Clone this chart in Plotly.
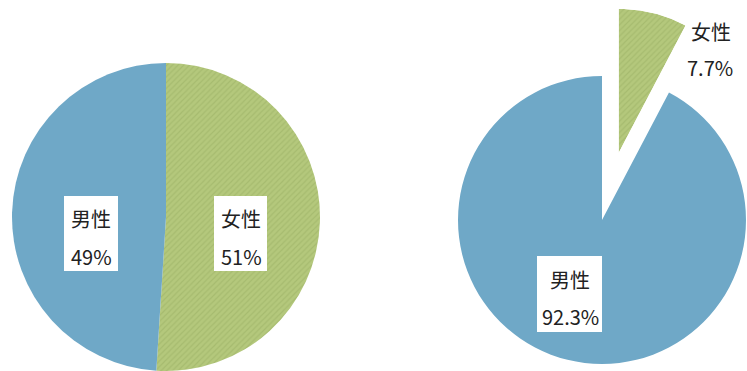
import math
import plotly.graph_objects as go

# ---- data ----
left_labels = ["女性", "男性"]
left_values = [51, 49]
left_text = ["51%", "49%"]

right_labels = ["女性", "男性"]
right_values = [7.7, 92.3]
right_text = ["7.7%", "92.3%"]

# ---- style ----
W, H = 747, 371
BLUE = "#6FA8C7"
GREEN = "#B4C87C"
HATCH = "#98AD62"
TXT = "#222222"
FONT = "Noto Sans CJK SC"


def dom(cx, cy, r):
    x0, x1 = (cx - r) / W, (cx + r) / W
    y0, y1 = 1 - (cy + r) / H, 1 - (cy - r) / H
    c = lambda v: min(1.0, max(0.0, v))
    return dict(x=[c(x0), c(x1)], y=[c(y0), c(y1)])


def P(x, y):
    return x / W, 1 - y / H


fig = go.Figure()

# left pie
L_CX, L_CY, L_R = 166, 217, 154
fig.add_trace(go.Pie(
    labels=left_labels, values=left_values, sort=False, direction="clockwise",
    rotation=0, textinfo="none", hoverinfo="skip", showlegend=False,
    domain=dom(L_CX, L_CY, L_R),
    marker=dict(colors=[GREEN, BLUE], line=dict(width=0),
                pattern=dict(shape=["/", ""], fgcolor=HATCH, size=4,
                             solidity=0.3, fillmode="overlay")),
))

# right pie (male part only; female slice drawn pulled out below)
R_CX, R_CY, R_R = 602, 220, 144
fig.add_trace(go.Pie(
    labels=right_labels, values=right_values, sort=False, direction="clockwise",
    rotation=0, textinfo="none", hoverinfo="skip", showlegend=False,
    domain=dom(R_CX, R_CY, R_R),
    marker=dict(colors=["rgba(0,0,0,0)", BLUE], line=dict(width=0)),
))

# pulled-out female slice
total = sum(right_values)
span = right_values[0] / total * 360.0
mid = span / 2.0
pull = 0.48
ox = R_CX + pull * R_R * math.sin(math.radians(mid))
oy = R_CY - pull * R_R * math.cos(math.radians(mid))
bw = R_R * math.sin(math.radians(span))
pcx = ox + bw / 2
polar_dom = dict(x=[(pcx - 45) / W, (pcx + 45) / W],
                 y=[1 - oy / H, 1 - (oy - R_R) / H])

fig.add_trace(go.Barpolar(
    r=[1], theta=[mid], width=[span], hoverinfo="skip", showlegend=False,
    marker=dict(color=GREEN, line=dict(width=0),
                pattern=dict(shape="/", fgcolor=HATCH, size=4, solidity=0.3,
                             fillmode="overlay")),
))

fig.update_layout(
    width=W, height=H, margin=dict(l=0, r=0, t=0, b=0),
    paper_bgcolor="white", plot_bgcolor="white",
    polar=dict(
        domain=polar_dom, sector=[90 - span, 90], bgcolor="rgba(0,0,0,0)", hole=0,
        angularaxis=dict(visible=False, rotation=90, direction="clockwise"),
        radialaxis=dict(visible=False, range=[0, 1]),
    ),
)

# label boxes
boxes = [(64, 196, 118, 271), (214, 196, 267, 271), (537, 256, 602, 332)]
for x0, y0, x1, y1 in boxes:
    a, b = P(x0, y1)
    c, d = P(x1, y0)
    fig.add_shape(type="rect", xref="paper", yref="paper", x0=a, y0=b, x1=c, y1=d,
                  fillcolor="white", line=dict(width=0), layer="above")

labels = [
    (91, 218, left_labels[1]), (91, 256, left_text[1]),
    (241, 218, left_labels[0]), (241, 256, left_text[0]),
    (570, 279, right_labels[1]), (570, 316, right_text[1]),
    (711, 32, right_labels[0]), (710, 68, right_text[0]),
]
for x, y, t in labels:
    ax, ay = P(x, y)
    fig.add_annotation(x=ax, y=ay, xref="paper", yref="paper", text=t,
                       showarrow=False, xanchor="center", yanchor="middle",
                       font=dict(family=FONT, size=20, color=TXT))

fig.write_html("out.html")
